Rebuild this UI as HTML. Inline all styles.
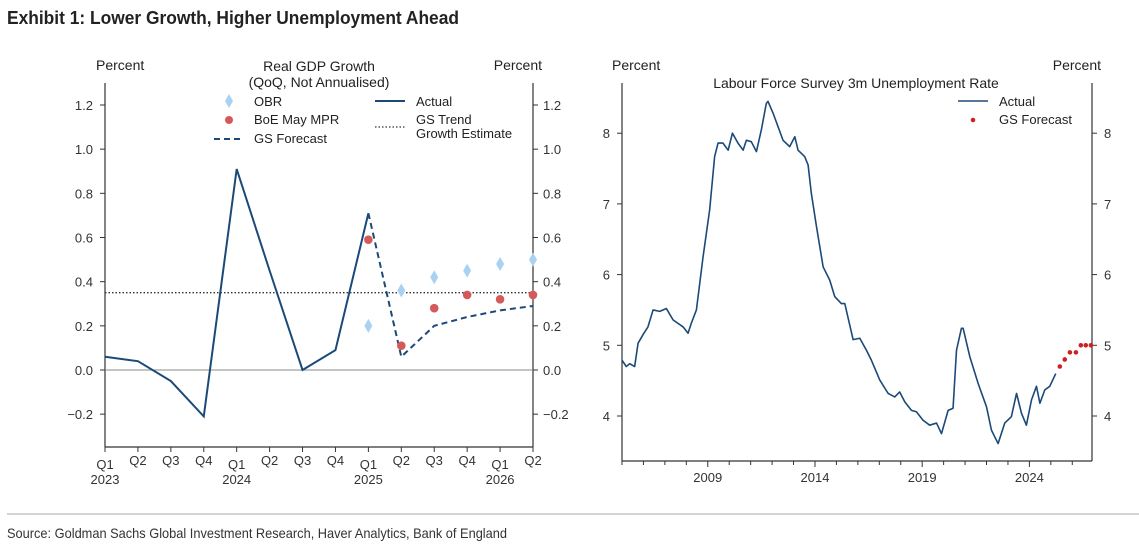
<!DOCTYPE html>
<html><head><meta charset="utf-8"><style>
body{margin:0;background:#fff;}
svg{display:block;font-family:"Liberation Sans",sans-serif;}
</style></head><body>
<svg id="root" width="1139" height="559" viewBox="0 0 1139 559">
<text x="7" y="24" font-size="18" font-weight="bold" fill="#222" textLength="452" lengthAdjust="spacingAndGlyphs">Exhibit 1: Lower Growth, Higher Unemployment Ahead</text>
<line x1="7" y1="514" x2="1139" y2="514" stroke="#bbb" stroke-width="1.2"/>
<text x="7" y="538" font-size="14" fill="#333" textLength="500" lengthAdjust="spacingAndGlyphs">Source: Goldman Sachs Global Investment Research, Haver Analytics, Bank of England</text>
<g id="gdp"></g>
<g id="ur"></g>
</svg>
<script>
const gdpQuarters=["Q1","Q2","Q3","Q4","Q1","Q2","Q3","Q4","Q1","Q2","Q3","Q4","Q1","Q2"];
const gdpYears=["2023","","","","2024","","","","2025","","","","2026",""];
const gdpActual=[0.06,0.04,-0.05,-0.21,0.91,0.45,0.0,0.09,0.71];
const gdpForecastStart=8;
const gdpForecast=[0.71,0.06,0.20,0.24,0.27,0.29];
const obrStart=8;
const obrValues=[0.20,0.36,0.42,0.45,0.48,0.50];
const boeStart=8;
const boeValues=[0.59,0.11,0.28,0.34,0.32,0.34];
const gsTrend=0.35;
const gdpTicks=[-0.2,0.0,0.2,0.4,0.6,0.8,1.0,1.2];

const urDates=[2005.00,2005.20,2005.36,2005.59,2005.75,2005.98,2006.21,2006.45,2006.76,2007.07,2007.38,2007.85,2008.08,2008.23,2008.47,2008.78,2009.09,2009.32,2009.48,2009.71,2009.95,2010.15,2010.41,2010.65,2010.80,2011.03,2011.27,2011.50,2011.73,2011.81,2012.05,2012.28,2012.51,2012.82,2013.06,2013.21,2013.52,2013.68,2013.83,2014.07,2014.38,2014.69,2014.92,2015.23,2015.39,2015.78,2016.09,2016.40,2016.63,2017.02,2017.41,2017.72,2017.95,2018.19,2018.50,2018.73,2019.04,2019.35,2019.67,2019.90,2020.21,2020.44,2020.60,2020.83,2020.91,2021.22,2021.61,2022.00,2022.23,2022.54,2022.85,2023.16,2023.40,2023.63,2023.86,2024.10,2024.33,2024.49,2024.72,2024.95,2025.23];
const urValues=[4.79,4.70,4.74,4.70,5.03,5.15,5.26,5.50,5.48,5.52,5.36,5.26,5.17,5.31,5.50,6.25,6.92,7.67,7.86,7.86,7.76,8.00,7.86,7.76,7.90,7.88,7.74,8.05,8.42,8.45,8.28,8.09,7.90,7.81,7.95,7.76,7.67,7.55,7.15,6.68,6.11,5.92,5.69,5.59,5.59,5.08,5.10,4.93,4.79,4.51,4.32,4.27,4.34,4.20,4.08,4.06,3.94,3.87,3.90,3.75,4.08,4.11,4.93,5.24,5.24,4.84,4.46,4.13,3.80,3.61,3.90,3.99,4.32,4.04,3.87,4.23,4.42,4.18,4.37,4.42,4.60];
const fcDates=[2025.42,2025.65,2025.89,2026.17,2026.40,2026.63,2026.87];
const fcValues=[4.7,4.8,4.9,4.9,5.0,5.0,5.0];
const urTicks=[4,5,6,7,8];
const urYearLabels=[2009,2014,2019,2024];

const NS="http://www.w3.org/2000/svg";
function mk(parent,tag,attrs,text){const e=document.createElementNS(NS,tag);for(const k in attrs)e.setAttribute(k,attrs[k]);if(text!==undefined)e.textContent=text;parent.appendChild(e);return e;}
const NAVY="#1b4a78",TXT="#333",AX="#333";

// ---------- GDP chart ----------
const g=document.getElementById('gdp');
const L=105,R=533,T=83,B=447;
const gx=i=>L+i*(R-L)/13;
const gy=v=>370-v*(370-105)/1.2;
let el;
el=mk(g,'line',{x1:L,y1:T,x2:L,y2:B,stroke:AX,'stroke-width':1.2});


el=mk(g,'line',{x1:R,y1:T,x2:R,y2:B,stroke:AX,'stroke-width':1.2});


el=mk(g,'line',{x1:L,y1:B,x2:R,y2:B,stroke:AX,'stroke-width':1.2});


gdpTicks.forEach(v=>{
  const y=gy(v),lab=v.toFixed(1).replace('-','\u2212');
  mk(g,'line',{x1:L-5,y1:y,x2:L,y2:y,stroke:AX});
  mk(g,'line',{x1:R,y1:y,x2:R+5,y2:y,stroke:AX});
  el=mk(g,'text',{x:L-12,y:y+5,'font-size':13,fill:TXT,'text-anchor':'end'},lab);
  
  
  el=mk(g,'text',{x:R+10,y:y+5,'font-size':13,fill:TXT},lab);
  
  
});
gdpQuarters.forEach((q,i)=>{
  const x=gx(i);
  mk(g,'line',{x1:x,y1:B,x2:x,y2:B+5,stroke:AX});
  el=mk(g,'text',{x:x,y:gdpYears[i]?469:465,'font-size':13,fill:TXT,'text-anchor':'middle'},q);
  
  
  if(gdpYears[i]){el=mk(g,'text',{x:x,y:484,'font-size':13,fill:TXT,'text-anchor':'middle'},gdpYears[i]);
  
  }
});
el=mk(g,'line',{x1:L,y1:gy(0),x2:R,y2:gy(0),stroke:'#888','stroke-width':1});


el=mk(g,'line',{x1:L,y1:gy(gsTrend),x2:R,y2:gy(gsTrend),stroke:'#333','stroke-width':1.3,'stroke-dasharray':'1.5,2'});


el=mk(g,'polyline',{points:gdpActual.map((v,i)=>gx(i)+','+gy(v)).join(' '),fill:'none',stroke:NAVY,'stroke-width':2});


el=mk(g,'polyline',{points:gdpForecast.map((v,i)=>gx(i+gdpForecastStart)+','+gy(v)).join(' '),fill:'none',stroke:NAVY,'stroke-width':2,'stroke-dasharray':'6,4'});


obrValues.forEach((v,i)=>{const x=gx(i+obrStart),y=gy(v);
  el=mk(g,'path',{d:`M${x},${y-7}L${x+4},${y}L${x},${y+7}L${x-4},${y}Z`,fill:'#a9d2f2'});
  
  });
boeValues.forEach((v,i)=>{
  el=mk(g,'circle',{cx:gx(i+boeStart),cy:gy(v),r:4.3,fill:'#d45a5a'});
  
  });
[['Percent',96,70,'start'],['Percent',542,70,'end']].forEach(a=>{
  el=mk(g,'text',{x:a[1],y:a[2],'font-size':14,fill:'#222','text-anchor':a[3]},a[0]);
  
  });
el=mk(g,'text',{x:319,y:71,'font-size':14,fill:'#222','text-anchor':'middle'},'Real GDP Growth');


el=mk(g,'text',{x:319,y:87,'font-size':14,fill:'#222','text-anchor':'middle'},'(QoQ, Not Annualised)');


// legend
const lg=mk(g,'g',{});


mk(lg,'path',{d:'M229,94L233,101L229,108L225,101Z',fill:'#a9d2f2'});
mk(lg,'text',{x:254,y:106,'font-size':13,fill:'#222'},'OBR');
mk(lg,'circle',{cx:229,cy:120,r:4,fill:'#d45a5a'});
mk(lg,'text',{x:254,y:124,'font-size':13,fill:'#222'},'BoE May MPR');
mk(lg,'line',{x1:214,y1:139,x2:243,y2:139,stroke:NAVY,'stroke-width':2,'stroke-dasharray':'6,4'});
mk(lg,'text',{x:254,y:143,'font-size':13,fill:'#222'},'GS Forecast');
mk(lg,'line',{x1:375,y1:101,x2:405,y2:101,stroke:NAVY,'stroke-width':2});
mk(lg,'text',{x:416,y:106,'font-size':13,fill:'#222'},'Actual');
mk(lg,'line',{x1:375,y1:127,x2:405,y2:127,stroke:'#333','stroke-width':1.3,'stroke-dasharray':'1.5,2'});
mk(lg,'text',{x:416,y:124,'font-size':13,fill:'#222'},'GS Trend');
mk(lg,'text',{x:416,y:138,'font-size':13,fill:'#222'},'Growth Estimate');

// ---------- Unemployment chart ----------
const u=document.getElementById('ur');
const L2=622,R2=1092,T2=83,B2=461;
const ux=t=>L2+(t-2005)*(R2-L2)/21.92;
const uy=v=>416-(v-4)*70.7;
el=mk(u,'line',{x1:L2,y1:T2,x2:L2,y2:B2,stroke:AX,'stroke-width':1.2});


el=mk(u,'line',{x1:R2,y1:T2,x2:R2,y2:B2,stroke:AX,'stroke-width':1.2});


el=mk(u,'line',{x1:L2,y1:B2,x2:R2,y2:B2,stroke:AX,'stroke-width':1.2});


urTicks.forEach(v=>{const y=uy(v);
  mk(u,'line',{x1:L2-5,y1:y,x2:L2,y2:y,stroke:AX});
  mk(u,'line',{x1:R2,y1:y,x2:R2+5,y2:y,stroke:AX});
  el=mk(u,'text',{x:L2-12,y:y+5,'font-size':13,fill:TXT,'text-anchor':'end'},String(v));
  
  
  el=mk(u,'text',{x:R2+12,y:y+5,'font-size':13,fill:TXT},String(v));
  
  });
for(let yr=2005;yr<=2026;yr++){const x=ux(yr);
  mk(u,'line',{x1:x,y1:B2,x2:x,y2:B2+(urYearLabels.includes(yr)?6:4),stroke:AX});}
urYearLabels.forEach(yr=>{
  el=mk(u,'text',{x:ux(yr),y:482,'font-size':13,fill:TXT,'text-anchor':'middle'},String(yr));
  
  });
el=mk(u,'polyline',{points:urDates.map((t,i)=>ux(t)+','+uy(urValues[i])).join(' '),fill:'none',stroke:NAVY,'stroke-width':1.6,'stroke-linejoin':'round'});


fcDates.forEach((t,i)=>{
  el=mk(u,'circle',{cx:ux(t),cy:uy(fcValues[i]),r:2.3,fill:'#cc2222'});
  
  });
[['Percent',612,70,'start'],['Percent',1101,70,'end']].forEach(a=>{
  el=mk(u,'text',{x:a[1],y:a[2],'font-size':14,fill:'#222','text-anchor':a[3]},a[0]);
  
  });
el=mk(u,'text',{x:856,y:88,'font-size':14,fill:'#222','text-anchor':'middle'},'Labour Force Survey 3m Unemployment Rate');


const lg2=mk(u,'g',{});


mk(lg2,'line',{x1:958,y1:101,x2:988,y2:101,stroke:NAVY,'stroke-width':1.6});
mk(lg2,'text',{x:999,y:106,'font-size':13,fill:'#222'},'Actual');
mk(lg2,'circle',{cx:973,cy:120,r:2.3,fill:'#cc2222'});
mk(lg2,'text',{x:999,y:124,'font-size':13,fill:'#222'},'GS Forecast');
</script>
</body></html>
